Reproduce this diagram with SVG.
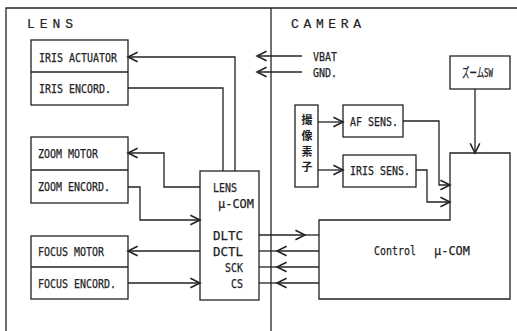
<svg xmlns="http://www.w3.org/2000/svg" width="517" height="331" viewBox="0 0 517 331">
<style>
.b{fill:none;stroke:#222;stroke-width:1.3}
.l{fill:none;stroke:#222;stroke-width:1.3}
.a{marker-end:url(#ah)}
.t{font-family:"DejaVu Sans Mono","Liberation Mono","Noto Sans CJK JP",monospace;font-size:13px;fill:#222;stroke:#222;stroke-width:0.25}
.h{font-family:"Liberation Mono","DejaVu Sans Mono",monospace;font-size:13px;fill:#222;stroke:#222;stroke-width:0.2}
.j{font-family:"Noto Sans CJK JP","Noto Sans CJK SC",sans-serif;font-size:11px;font-weight:bold;fill:#222;text-anchor:middle}
</style>
<defs>
<marker id="ah" markerUnits="userSpaceOnUse" markerWidth="12" markerHeight="12" refX="8.5" refY="4.5" orient="auto" viewBox="0 0 10 9">
<path d="M0.5,0.5 L8.5,4.5 L0.5,8.5" fill="none" stroke="#222" stroke-width="1.3"/>
</marker>
</defs>
<rect width="517" height="331" fill="#fff"/>
<g id="frame">
<path class="b" d="M6,331 V8 H517"/>
<path class="b" d="M271,8 V331"/>
<text class="h" x="27" y="28" textLength="46" lengthAdjust="spacing">LENS</text>
<text class="h" x="291" y="28" textLength="70" lengthAdjust="spacing">CAMERA</text>
</g>
<g id="iris">
<rect class="b" x="31" y="40" width="97" height="65"/>
<path class="b" d="M31,72 H128"/>
<text class="t" x="39" y="62" textLength="78" lengthAdjust="spacingAndGlyphs">IRIS ACTUATOR</text>
<text class="t" x="39" y="93" textLength="72" lengthAdjust="spacingAndGlyphs">IRIS ENCORD.</text>
</g>
<g id="zoom">
<rect class="b" x="31" y="137" width="97" height="66"/>
<path class="b" d="M31,170 H128"/>
<text class="t" x="38" y="158" textLength="60" lengthAdjust="spacingAndGlyphs">ZOOM MOTOR</text>
<text class="t" x="38" y="191" textLength="72" lengthAdjust="spacingAndGlyphs">ZOOM ENCORD.</text>
</g>
<g id="focus">
<rect class="b" x="31" y="236" width="97" height="63"/>
<path class="b" d="M31,267 H128"/>
<text class="t" x="38" y="256" textLength="66" lengthAdjust="spacingAndGlyphs">FOCUS MOTOR</text>
<text class="t" x="38" y="288" textLength="78" lengthAdjust="spacingAndGlyphs">FOCUS ENCORD.</text>
</g>
<g id="lens-com">
<rect class="b" x="200" y="171" width="59" height="129"/>
<text class="t" x="213" y="192" textLength="24" lengthAdjust="spacingAndGlyphs">LENS</text>
<text class="t" x="218" y="208" textLength="36" lengthAdjust="spacingAndGlyphs">μ-COM</text>
<text class="t" x="213" y="240" textLength="30" lengthAdjust="spacingAndGlyphs">DLTC</text>
<text class="t" x="213" y="256" textLength="30" lengthAdjust="spacingAndGlyphs">DCTL</text>
<text class="t" x="225" y="272" textLength="18" lengthAdjust="spacingAndGlyphs">SCK</text>
<text class="t" x="231" y="288" textLength="12" lengthAdjust="spacingAndGlyphs">CS</text>
</g>
<g id="power">
<text class="t" x="313" y="61" textLength="24" lengthAdjust="spacingAndGlyphs">VBAT</text>
<text class="t" x="313" y="77" textLength="24" lengthAdjust="spacingAndGlyphs">GND.</text>
</g>
<g id="zoom-sw">
<rect class="b" x="450" y="56" width="60" height="33"/>
<text class="t" x="462" y="77" textLength="31" lengthAdjust="spacingAndGlyphs">ズームSW</text>
</g>
<g id="sensor">
<rect class="b" x="295" y="105" width="23" height="82"/>
<text class="j" x="307" y="124">撮</text>
<text class="j" x="307" y="140">像</text>
<text class="j" x="307" y="156">素</text>
<text class="j" x="307" y="171">子</text>
</g>
<g id="af-sens">
<rect class="b" x="343" y="105" width="60" height="32"/>
<text class="t" x="350" y="126" textLength="48" lengthAdjust="spacingAndGlyphs">AF SENS.</text>
</g>
<g id="iris-sens">
<rect class="b" x="343" y="155" width="73" height="32"/>
<text class="t" x="350" y="175" textLength="60" lengthAdjust="spacingAndGlyphs">IRIS SENS.</text>
</g>
<g id="control">
<path class="b" d="M450,153 H510 V299 H319 V220 H450 Z"/>
<text class="t" x="374" y="255" textLength="42" lengthAdjust="spacingAndGlyphs">Control</text>
<text class="t" x="434" y="255" textLength="36" lengthAdjust="spacingAndGlyphs">μ-COM</text>
</g>
<g id="connectors">
<path class="l a" d="M235,171 V57 H128"/>
<path class="l" d="M128,88 H223 V171"/>
<path class="l a" d="M200,187 H164 V153 H128"/>
<path class="l a" d="M128,187 H140 V220 H200"/>
<path class="l a" d="M200,251 H128"/>
<path class="l a" d="M128,283 H200"/>
<path class="l a" d="M259,235 H305"/>
<path class="l" d="M305,235 H319"/>
<path class="l a" d="M319,251 H277"/>
<path class="l" d="M277,251 H259"/>
<path class="l a" d="M319,267 H277"/>
<path class="l" d="M277,267 H259"/>
<path class="l a" d="M319,283 H277"/>
<path class="l" d="M277,283 H259"/>
<path class="l a" d="M302,56 H257"/>
<path class="l a" d="M302,72 H257"/>
<path class="l a" d="M475,89 V153"/>
<path class="l a" d="M318,122 H343"/>
<path class="l a" d="M318,170 H343"/>
<path class="l a" d="M403,121 H439 V185 H450"/>
<path class="l a" d="M416,170 H427 V202 H450"/>
</g>
</svg>
